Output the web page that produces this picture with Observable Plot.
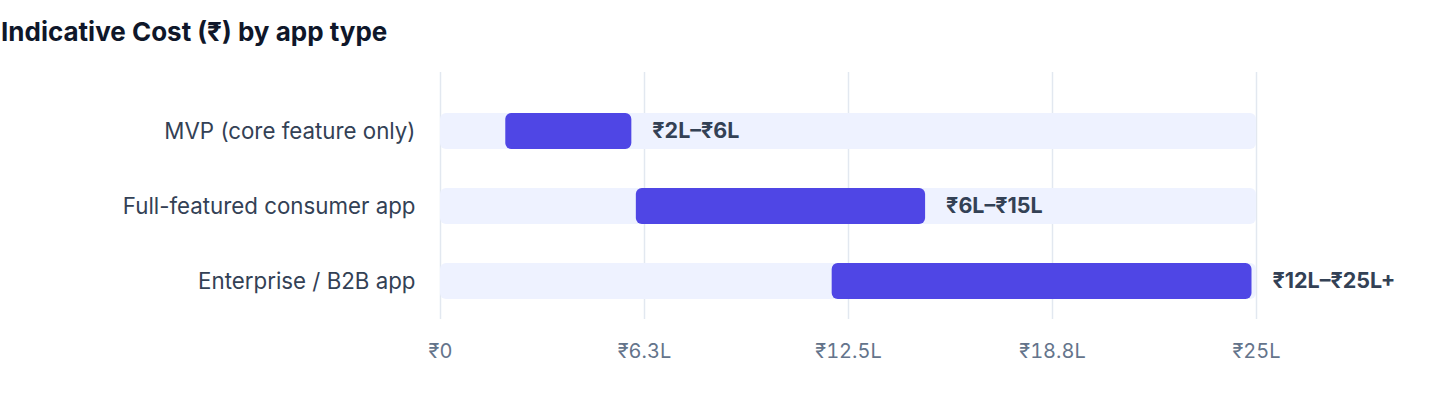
<!DOCTYPE html>
<html><head><meta charset="utf-8">
<script src="https://cdn.jsdelivr.net/npm/d3@7"></script>
<script src="https://cdn.jsdelivr.net/npm/@observablehq/plot@0.6"></script>
<style>
body{margin:0;background:#fff;font-family:Inter, "Liberation Sans", sans-serif;}
#wrap{position:relative;width:1440px;height:408px;overflow:hidden}
#title{position:absolute;left:1px;top:16px;font-size:26px;font-weight:700;color:#0f172a;line-height:32px;white-space:nowrap}
#chart{position:absolute;left:0;top:60px}
</style></head><body>
<div id="wrap"><div id="title">Indicative Cost (₹) by app type</div><div id="chart"></div></div>
<script>
const appTypes = ["MVP (core feature only)", "Full-featured consumer app", "Enterprise / B2B app"];
const costLow = [2, 6, 12];
const costHigh = [6, 15, 25];
const rangeLabels = ["₹2L–₹6L", "₹6L–₹15L", "₹12L–₹25L+"];
const scaleMax = 25;
const tickValues = [0, 6.25, 12.5, 18.75, 25];
const tickLabels = ["₹0", "₹6.3L", "₹12.5L", "₹18.8L", "₹25L"];

const rows = appTypes.map((t, i) => ({type: t, lo: costLow[i], hi: costHigh[i], label: rangeLabels[i], max: scaleMax}));

const chart = Plot.plot({
  width: 1440, height: 348, marginTop: 12, marginBottom: 89, marginLeft: 440, marginRight: 184,
  style: {fontFamily: "Inter, sans-serif", background: "transparent", overflow: "visible"},
  x: {domain: [0, scaleMax]},
  y: {domain: appTypes, paddingInner: 0.523, paddingOuter: 0.265, insetTop: 20},
  marks: [
    Plot.gridX(tickValues, {stroke: "#e2e8f0", strokeOpacity: 1, strokeWidth: 1.5}),
    Plot.axisX(tickValues, {tickSize: 0, tickPadding: 24, fontSize: 20, fill: "#64748b", label: null,
      tickFormat: d => tickLabels[tickValues.indexOf(d)]}),
    Plot.axisY({tickSize: 0, tickPadding: 25, fontSize: 22.3, fill: "#334155", label: null}),
    Plot.barX(rows, {x1: () => 0, x2: "max", y: "type", fill: "#eef2ff", rx: 6}),
    Plot.barX(rows, {x1: "lo", x2: "hi", y: "type", fill: "#4f46e5", rx: 6, insetRight: 4.5}),
    Plot.text(rows, {x: "hi", y: "type", text: "label", textAnchor: "start", dx: 16, fontWeight: 700, fontSize: 21.5, fill: "#334155"})
  ]
});
document.getElementById("chart").appendChild(chart);
</script>
</body></html>
